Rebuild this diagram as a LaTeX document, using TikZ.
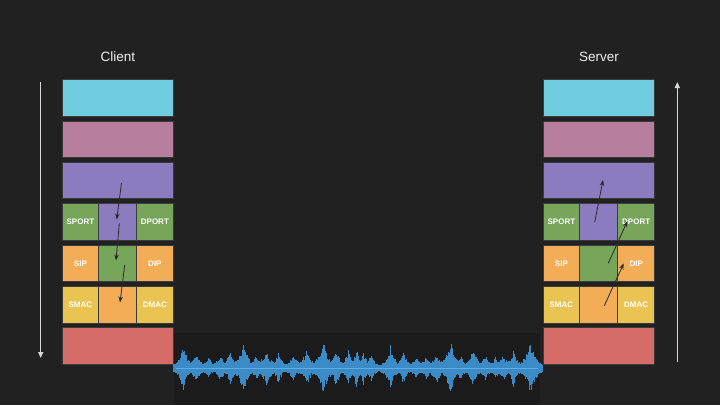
\documentclass[tikz,border=0pt]{standalone}
\usepackage{fontspec}
\setmainfont{Liberation Sans}
\usetikzlibrary{arrows.meta}
\definecolor{bg}{HTML}{212121}
\definecolor{wavebg}{HTML}{1B1B1B}
\definecolor{boxline}{HTML}{3A3A3A}
\definecolor{lcyan}{HTML}{70CDDF}
\definecolor{lpink}{HTML}{B77F9D}
\definecolor{lpurple}{HTML}{8A7CBF}
\definecolor{lgreen}{HTML}{77A55A}
\definecolor{lorange}{HTML}{F3AD56}
\definecolor{lyellow}{HTML}{E9C452}
\definecolor{lred}{HTML}{D46D68}
\definecolor{wave}{HTML}{3B8CC6}
\definecolor{wavemid}{HTML}{5EADE3}
\definecolor{flowc}{HTML}{2A2A2A}
\definecolor{sidec}{HTML}{D8D8D8}
\begin{document}
\begin{tikzpicture}[x=1pt,y=-1pt,
  layer/.style={rectangle, draw=boxline, line width=0.8pt, minimum height=36.5pt, inner sep=0pt, text=white, font=\fontsize{8}{9}\selectfont\bfseries},
  title/.style={text=white!94!black, font=\fontsize{13.5}{15}\selectfont},
  flow/.style={draw=flowc, line width=0.8pt, -{Stealth[length=6pt,width=4.5pt]}},
  side/.style={draw=sidec, line width=1.1pt, -{Triangle[length=6pt,width=5pt]}}]
\fill[bg] (0,0) rectangle (720,405);
\useasboundingbox (0,0) rectangle (720,405);
\fill[wavebg] (174,333) rectangle (540,405);

% titles
\node[title] (client) at (118,57) {Client};
\node[title] (server) at (599,57) {Server};

% client stack
\node[layer, fill=lcyan,   minimum width=110.5pt] (c1) at (117.75,97.75) {};
\node[layer, fill=lpink,   minimum width=110.5pt] (c2) at (117.75,139.15) {};
\node[layer, fill=lpurple, minimum width=110.5pt] (c3) at (117.75,180.55) {};
\node[layer, fill=lgreen,  minimum width=35.8pt] (c4l) at (80.4,221.85) {SPORT};
\node[layer, fill=lpurple, minimum width=38.5pt] (c4m) at (117.55,221.85) {};
\node[layer, fill=lgreen,  minimum width=36.2pt] (c4r) at (154.9,221.85) {DPORT};
\node[layer, fill=lorange, minimum width=35.8pt] (c5l) at (80.4,263.25) {SIP};
\node[layer, fill=lgreen,  minimum width=38.5pt] (c5m) at (117.55,263.25) {};
\node[layer, fill=lorange, minimum width=36.2pt] (c5r) at (154.9,263.25) {DIP};
\node[layer, fill=lyellow, minimum width=35.8pt] (c6l) at (80.4,304.65) {SMAC};
\node[layer, fill=lorange, minimum width=38.5pt] (c6m) at (117.55,304.65) {};
\node[layer, fill=lyellow, minimum width=36.2pt] (c6r) at (154.9,304.65) {DMAC};
\node[layer, fill=lred,    minimum width=110.5pt] (c7) at (117.75,346.05) {};

% server stack
\node[layer, fill=lcyan,   minimum width=111.2pt] (s1) at (599.1,97.75) {};
\node[layer, fill=lpink,   minimum width=111.2pt] (s2) at (599.1,139.15) {};
\node[layer, fill=lpurple, minimum width=111.2pt] (s3) at (599.1,180.55) {};
\node[layer, fill=lgreen,  minimum width=35.8pt] (s4l) at (561.4,221.85) {SPORT};
\node[layer, fill=lpurple, minimum width=38.4pt] (s4m) at (598.5,221.85) {};
\node[layer, fill=lgreen,  minimum width=37pt] (s4r) at (636.2,221.85) {DPORT};
\node[layer, fill=lorange, minimum width=35.8pt] (s5l) at (561.4,263.25) {SIP};
\node[layer, fill=lgreen,  minimum width=38.4pt] (s5m) at (598.5,263.25) {};
\node[layer, fill=lorange, minimum width=37pt] (s5r) at (636.2,263.25) {DIP};
\node[layer, fill=lyellow, minimum width=35.8pt] (s6l) at (561.4,304.65) {SMAC};
\node[layer, fill=lorange, minimum width=38.4pt] (s6m) at (598.5,304.65) {};
\node[layer, fill=lyellow, minimum width=37pt] (s6r) at (636.2,304.65) {DMAC};
\node[layer, fill=lred,    minimum width=111.2pt] (s7) at (599.1,346.05) {};

% side arrows
\coordinate (lt) at (40.7,82);
\coordinate (lb) at (40.7,358);
\coordinate (rb) at (677.3,362);
\coordinate (rt) at (677.3,82);
\draw[side] (lt) -- (lb);
\draw[side] (rb) -- (rt);

% client flow arrows
\coordinate (ca1) at (121.5,183);
\coordinate (cb1) at (116.7,219.5);
\coordinate (ca2) at (119.3,223.5);
\coordinate (cb2) at (116,260.5);
\coordinate (ca3) at (124.7,265);
\coordinate (cb3) at (120,302.5);
\draw[flow] (ca1) -- (cb1);
\draw[flow] (ca2) -- (cb2);
\draw[flow] (ca3) -- (cb3);

% server flow arrows
\coordinate (sa1) at (594.7,222.3);
\coordinate (sb1) at (603,180);
\coordinate (sa2) at (608.3,263.3);
\coordinate (sb2) at (627.3,221.2);
\coordinate (sa3) at (604.3,305.7);
\coordinate (sb3) at (623.7,263.5);
\draw[flow] (sa1) -- (sb1);
\draw[flow] (sa2) -- (sb2);
\draw[flow] (sa3) -- (sb3);

% waveform
\pgfmathsetseed{11}
\draw[wavemid, line width=1.6pt] (176,368) -- (538,368);
\foreach \c/\a/\w in {183.3/23/5, 196.7/15/5, 208.3/10/5, 220/12/6, 230/15/6, 243.3/29/5,
  256.7/12/5, 266.7/18/6, 278.3/14/5, 293.3/12/6, 306.7/18/6, 323.3/27/6, 336.7/18/5,
  348.3/17/5, 356.7/20/4, 363.3/18/4, 371.7/15/4, 390/22/5, 403.3/15/5, 416.7/10/6,
  426.7/12/5, 436.7/15/6, 450/30/5, 460/12/5, 473.3/18/6, 485/12/5, 495/10/5,
  503.3/13/5, 513.3/18/5, 530/27/6} {
  \pgfmathtruncatemacro\n{2*\w}
  \foreach \d in {-\n,...,\n} {
    \pgfmathsetmacro\e{\a*exp(0-1.1*abs(\d)/\w)}
    \pgfmathsetmacro\hu{\e*(0.55+0.45*rnd)+1.5}
    \pgfmathsetmacro\hd{\e*(0.55+0.45*rnd)+1.5}
    \draw[wave, line width=1pt] ({\c+(\d)},{368-\hu}) -- ({\c+(\d)},{368+\hd});
  }
}
\draw[wavemid, line width=0.9pt] (176,368) -- (538,368);
\end{tikzpicture}
\end{document}
